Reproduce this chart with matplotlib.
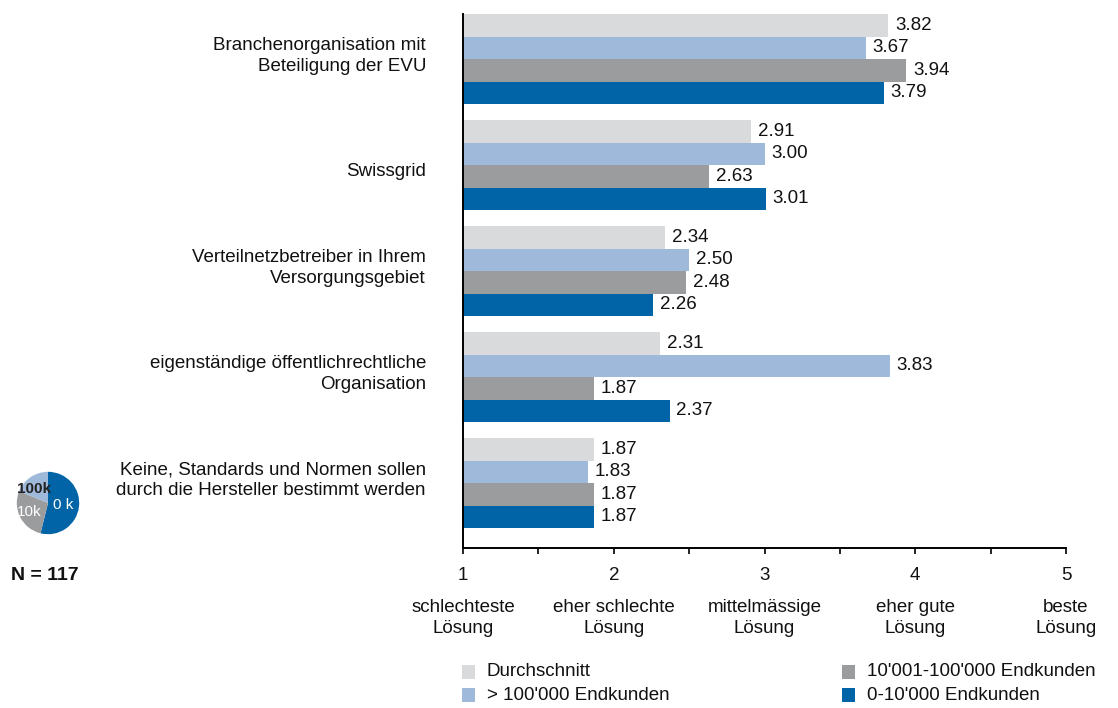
import matplotlib
matplotlib.use("Agg")
import matplotlib.pyplot as plt
from matplotlib.patches import Rectangle

plt.rcParams['font.family'] = ['Liberation Sans', 'DejaVu Sans']

categories = [
    "Branchenorganisation mit\nBeteiligung der EVU",
    "Swissgrid",
    "Verteilnetzbetreiber in Ihrem\nVersorgungsgebiet",
    "eigenständige öffentlichrechtliche\nOrganisation",
    "Keine, Standards und Normen sollen\ndurch die Hersteller bestimmt werden",
]
series_names = ["Durchschnitt", "> 100'000 Endkunden",
                "10'001-100'000 Endkunden", "0-10'000 Endkunden"]
durchschnitt = [3.82, 2.91, 2.34, 2.31, 1.87]
gross = [3.67, 3.00, 2.50, 3.83, 1.83]
mittel = [3.94, 2.63, 2.48, 1.87, 1.87]
klein = [3.79, 3.01, 2.26, 2.37, 1.87]
colors = ["#d9dadb", "#9fb9db", "#9b9c9e", "#0064a6"]

tick_values = [1, 2, 3, 4, 5]
tick_labels = ["schlechteste\nLösung", "eher schlechte\nLösung", "mittelmässige\nLösung",
               "eher gute\nLösung", "beste\nLösung"]

pie_labels = ["0 k", "10k", "100k"]
pie_counts = [63, 32, 22]
pie_colors = ["#0064a6", "#9b9c9e", "#9fb9db"]
pie_text_colors = ["white", "white", "#222222"]
n_total = 117

FS = 13.5
TXT = '#111111'

W, H = 1118, 708
fig = plt.figure(figsize=(W / 100, H / 100), dpi=100)

ax_left, ax_right = 463, 1066
ax_top, ax_bottom = 14, 548
ax = fig.add_axes([ax_left / W, 1 - ax_bottom / H, (ax_right - ax_left) / W,
                   (ax_bottom - ax_top) / H])

bar_h = 0.2125
all_series = [durchschnitt, gross, mittel, klein]
for k, (vals, col) in enumerate(zip(all_series, colors)):
    for i, v in enumerate(vals):
        y = (i + 1) - 1.5 * bar_h + k * bar_h
        ax.barh(y, v - 1, left=1, height=bar_h, color=col, edgecolor='none')
        ax.text(v + 0.045, y, f"{v:.2f}", va='center', ha='left', fontsize=FS,
                color=TXT)

ax.set_xlim(1, 5)
ax.set_ylim(5.613, 0.575)
for s in ['top', 'right']:
    ax.spines[s].set_visible(False)
ax.spines['left'].set_linewidth(1.4)
ax.spines['bottom'].set_linewidth(1.4)
ax.set_yticks([])
ax.set_xticks([1, 1.5, 2, 2.5, 3, 3.5, 4, 4.5, 5])
ax.set_xticklabels([])
ax.tick_params(axis='x', direction='out', length=4, width=1.2)

# category labels
for i, c in enumerate(categories):
    yc = 59 + 106 * i + (6 if "\n" not in c else -3)
    fig.text(426 / W, 1 - yc / H, c, ha='right', va='center',
             fontsize=FS, linespacing=1.25, color=TXT)

# scale numbers and verbal anchors
for v, lab in zip(tick_values, tick_labels):
    px = ax_left + (v - 1) * (ax_right - ax_left) / 4
    fig.text(px / W, 1 - 575 / H, str(v), ha='center', va='center', fontsize=FS,
             color=TXT)
    fig.text(px / W, 1 - 618 / H, lab, ha='center', va='center', fontsize=FS,
             linespacing=1.25, color=TXT)

# legend
legend_pos = [(462, 672), (462, 695), (842, 672), (842, 695)]
for (px, py), name, col in zip(legend_pos, series_names, colors):
    fig.patches.append(Rectangle((px / W, 1 - (py + 7) / H), 13 / W, 14 / H,
                                 transform=fig.transFigure, facecolor=col,
                                 edgecolor='none'))
    fig.text((px + 25) / W, 1 - py / H, name, ha='left', va='center',
             fontsize=FS, color=TXT)

# sample composition pie
cx, cy, r = 48, 503, 39
pax = fig.add_axes([(cx - r) / W, 1 - (cy + r) / H, 2 * r / W, 2 * r / H])
wedges, _ = pax.pie(pie_counts, colors=pie_colors, startangle=90, counterclock=False,
                    wedgeprops=dict(linewidth=0))
pax.set_aspect('equal')
label_pos = [(0.5, -0.08), (-0.6, -0.3), (-0.45, 0.45)]
for (lx, ly), t, tc in zip(label_pos, pie_labels, pie_text_colors):
    pax.text(lx, ly, t, ha='center', va='center', fontsize=11, color=tc,
             fontweight='bold' if tc == "#222222" else 'normal')
fig.text(45 / W, 1 - 576 / H, f"N = {n_total}", ha='center', va='center',
         fontsize=14, fontweight='bold', color=TXT)

fig.savefig("out.png", dpi=100)
